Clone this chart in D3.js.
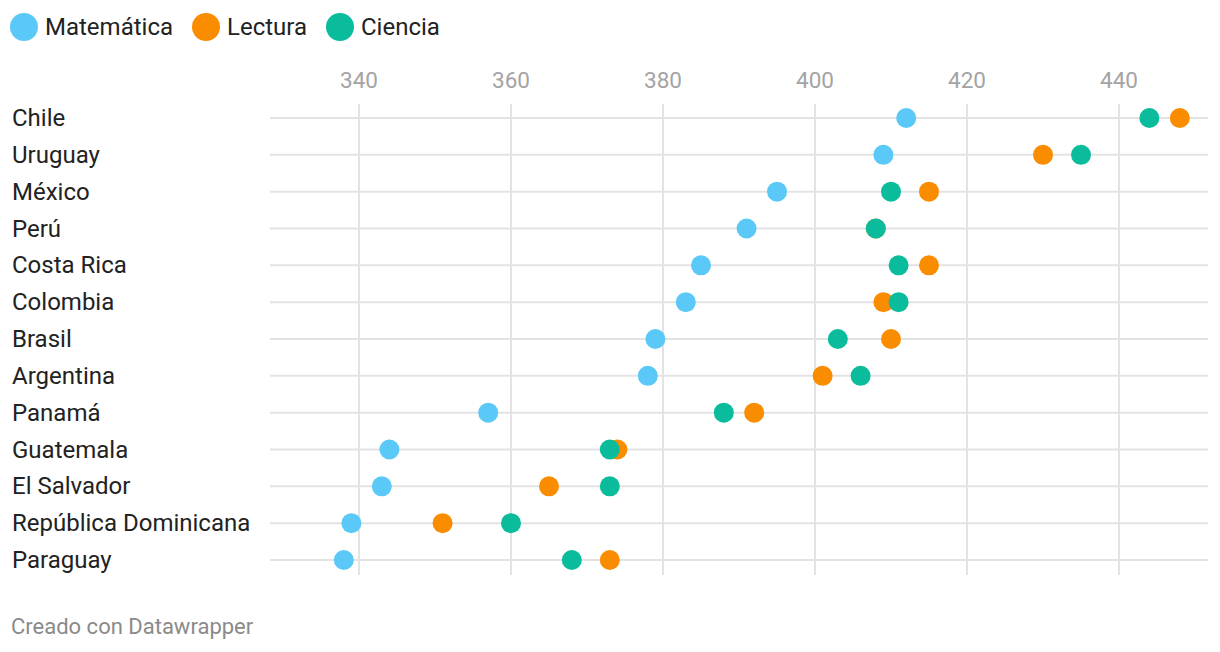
<!DOCTYPE html>
<html><head><meta charset="utf-8">
<script src="https://cdn.jsdelivr.net/npm/d3@7"></script>
<style>
body{margin:0;background:#fff;font-family:Roboto,"Noto Sans",sans-serif;}
svg{display:block;}
</style></head>
<body>
<svg id="chart" width="1220" height="652"></svg>
<script>
const countries = ["Chile","Uruguay","México","Perú","Costa Rica","Colombia","Brasil","Argentina","Panamá","Guatemala","El Salvador","República Dominicana","Paraguay"];
const matematica = [412,409,395,391,385,383,379,378,357,344,343,339,338];
const lectura    = [448,430,415,408,415,409,410,401,392,374,365,351,373];
const ciencia    = [444,435,410,408,411,411,403,406,388,373,373,360,368];
const seriesNames = ["Matemática","Lectura","Ciencia"];
const seriesColors = ["#5bc9f7","#fa8c00","#0abc9c"];
const tickValues = [340,360,380,400,420,440];

const svg = d3.select("#chart");
const x = d3.scaleLinear().domain([340,440]).range([359,1119]);
const y = d3.scalePoint().domain(countries).range([118,560]);

// legend
const legendX = [24,206,340];
seriesNames.forEach((n,i)=>{
  const g = svg.append("g").attr("transform",`translate(${legendX[i]},27)`);
  g.append("circle").attr("r",14).attr("fill",seriesColors[i]);
  g.append("text").attr("x",21).attr("y",7.5).attr("font-size",24).attr("fill","#222").text(n);
});

// vertical grid + tick labels
const gx = svg.append("g");
gx.selectAll("line").data(tickValues).join("line")
  .attr("x1",d=>x(d)).attr("x2",d=>x(d)).attr("y1",104).attr("y2",575)
  .attr("stroke","#e3e3e3").attr("stroke-width",2);
gx.selectAll("text").data(tickValues).join("text")
  .attr("x",d=>x(d)).attr("y",88).attr("text-anchor","middle")
  .attr("font-size",22.5).attr("fill","#a3a3a3").text(d=>d);

// horizontal grid
svg.append("g").selectAll("line").data(countries).join("line")
  .attr("x1",270).attr("x2",1208).attr("y1",d=>y(d)).attr("y2",d=>y(d))
  .attr("stroke","#e3e3e3").attr("stroke-width",2);

// row labels
svg.append("g").selectAll("text").data(countries).join("text")
  .attr("x",12).attr("y",d=>y(d)+8).attr("font-size",24).attr("fill","#222").text(d=>d);

// dots
[matematica,lectura,ciencia].forEach((vals,si)=>{
  svg.append("g").selectAll("circle").data(countries).join("circle")
    .attr("cx",(d,i)=>x(vals[i])).attr("cy",d=>y(d)).attr("r",10)
    .attr("fill",seriesColors[si]);
});

// footer
svg.append("text").attr("x",11).attr("y",634).attr("font-size",22).attr("fill","#8a8a8a").text("Creado con Datawrapper");
</script>
</body></html>
